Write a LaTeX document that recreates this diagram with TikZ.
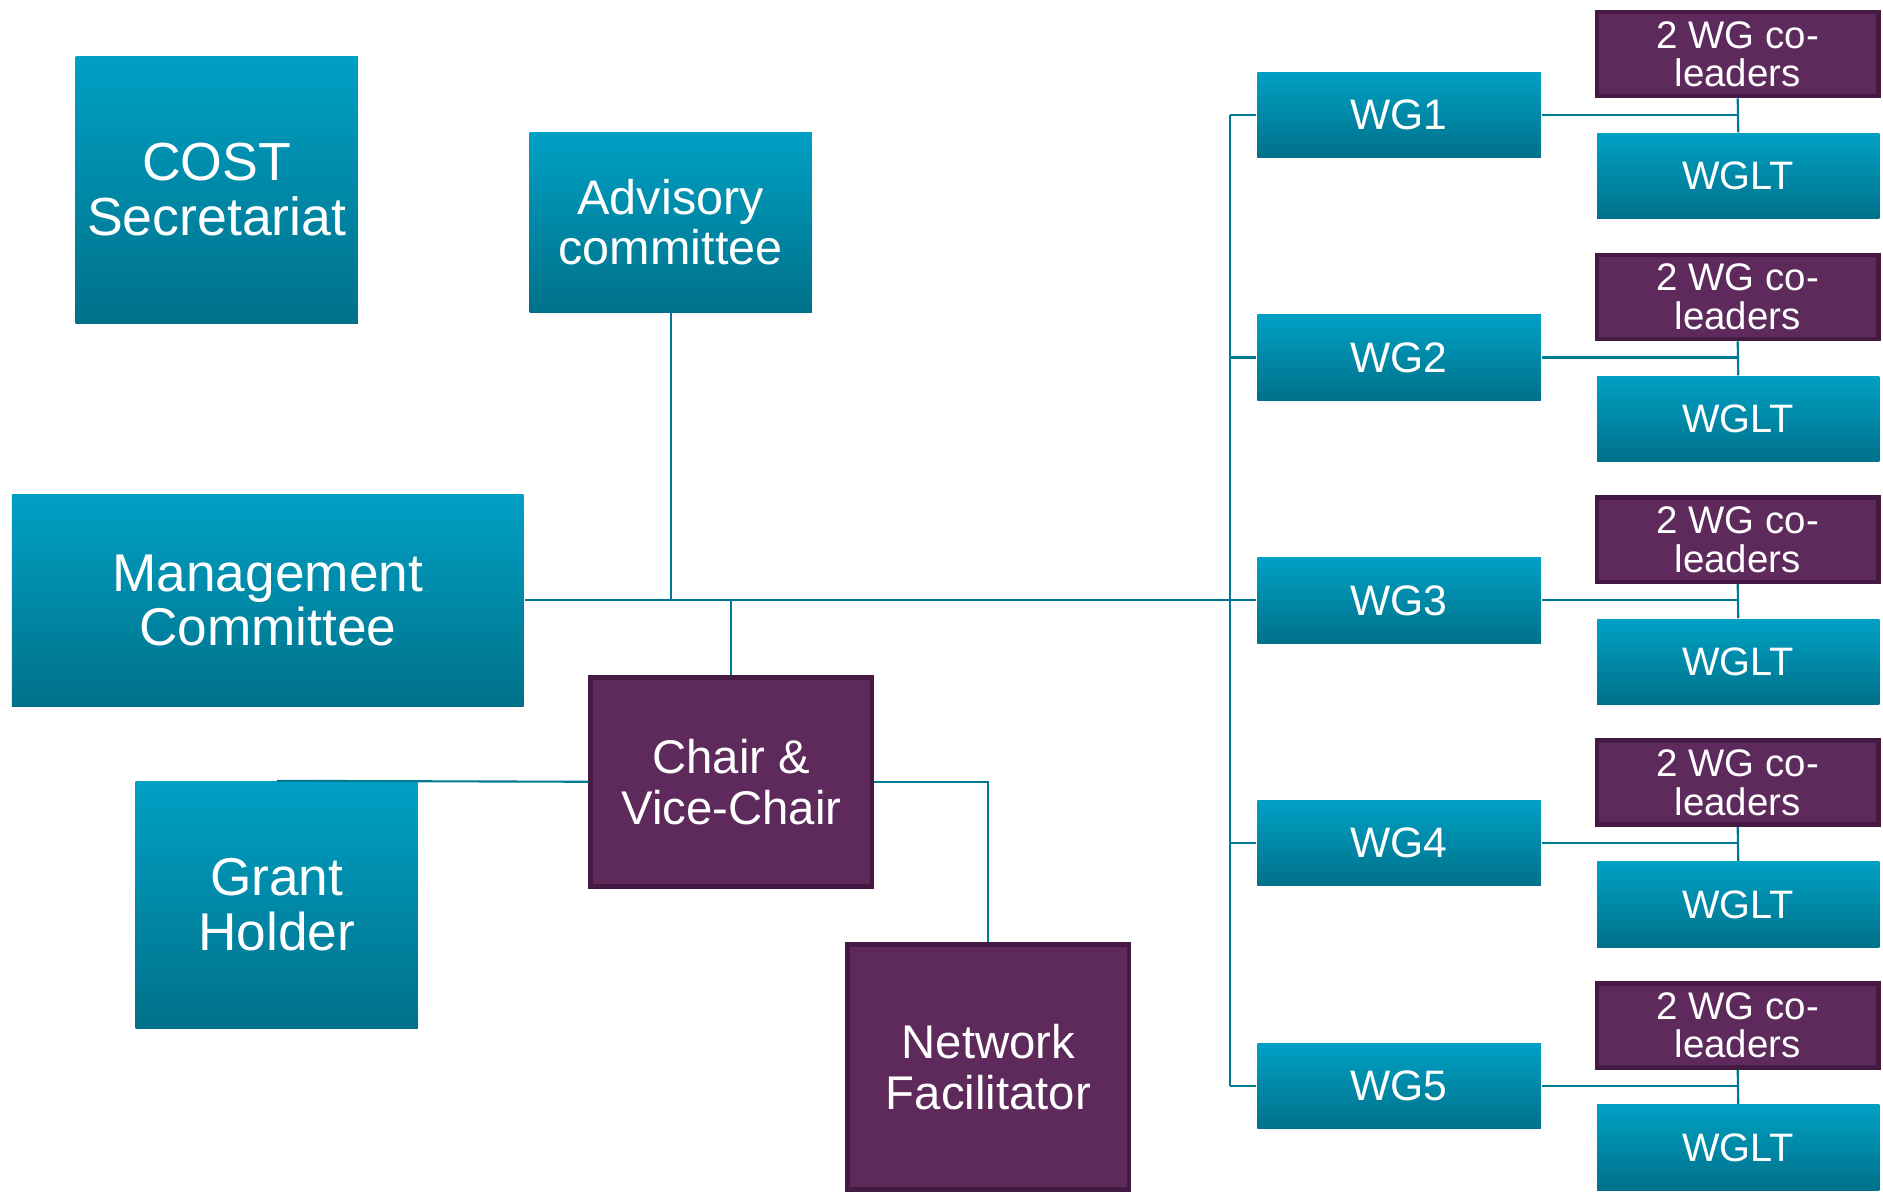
\documentclass[tikz,border=0pt]{standalone}
\usepackage{fontspec}
\setmainfont{Liberation Sans}
\definecolor{tealtop}{RGB}{0,160,196}
\definecolor{tealbot}{RGB}{0,113,138}
\definecolor{purp}{RGB}{94,42,92}
\definecolor{purpedge}{RGB}{68,26,66}
\definecolor{linec}{RGB}{0,122,146}
\begin{document}
\begin{tikzpicture}[x=0.01cm,y=-0.01cm,
  tealbox/.style={rectangle, inner sep=0pt, top color=tealtop, bottom color=tealbot, text=white, align=center},
  purpbox/.style={rectangle, inner sep=0pt, fill=purp, draw=purpedge, line width=1.1pt, text=white, align=center},
  conn/.style={draw=linec, line width=0.5pt}]
\useasboundingbox (0,0) rectangle (1568,992);

% left part
\node[tealbox, minimum width=2.35cm, minimum height=2.22cm,
  font=\fontsize{12.7}{13}\selectfont] (cost) at (180.5,158) {COST\\Secretariat};
\node[tealbox, minimum width=2.35cm, minimum height=1.50cm,
  font=\fontsize{11.5}{11.9}\selectfont] (adv) at (558.5,185) {Advisory\\committee};
\node[tealbox, minimum width=4.26cm, minimum height=1.76cm,
  font=\fontsize{12.6}{12.9}\selectfont] (mc) at (223,500) {Management\\Committee};
\node[purpbox, minimum width=2.34cm, minimum height=1.74cm,
  font=\fontsize{11.2}{12}\selectfont] (chair) at (609,651) {Chair \&\\Vice-Chair};
\node[tealbox, minimum width=2.35cm, minimum height=2.05cm,
  font=\fontsize{12.6}{12.9}\selectfont] (grant) at (230.5,753.5) {Grant\\Holder};
\node[purpbox, minimum width=2.34cm, minimum height=2.04cm,
  font=\fontsize{11.2}{12}\selectfont] (nf) at (823,888.5) {Network\\Facilitator};

% working groups
\foreach \i in {1,...,5}{
  \pgfmathsetmacro{\wy}{95.5+202.25*(\i-1)}
  \pgfmathsetmacro{\cy}{45+202.25*(\i-1)}
  \pgfmathsetmacro{\ly}{146.5+202.25*(\i-1)}
  \node[tealbox, minimum width=2.36cm, minimum height=0.71cm,
    font=\fontsize{10.1}{11}\selectfont] (wg\i) at (1165,\wy) {WG\i};
  \node[purpbox, minimum width=2.34cm, minimum height=0.70cm,
    font=\fontsize{9.1}{9.1}\selectfont] (co\i) at (1447,\cy) {2 WG co-\\leaders};
  \node[tealbox, minimum width=2.35cm, minimum height=0.71cm,
    font=\fontsize{9.4}{10}\selectfont] (lt\i) at (1447.5,\ly) {WGLT};
}

\coordinate (spine) at (1024,500);

% connectors
\draw[conn] (mc.east) -- (wg3.west);
\draw[conn] (adv.south) -- (adv.south |- mc.east);
\draw[conn] (chair.north) -- (chair.north |- mc.east);
\draw[conn] (chair.west) -- (grant.north);
\draw[conn] (chair.east) -| (nf.north);
\draw[conn] (spine |- wg1.west) -- (spine |- wg5.west);
\foreach \i in {1,...,5}{
  \draw[conn] (spine |- wg\i.west) -- (wg\i.west);
  \draw[conn] (wg\i.east) -- (wg\i.east -| co\i.south);
  \draw[conn] (co\i.south) -- (lt\i.north);
}
\end{tikzpicture}
\end{document}
